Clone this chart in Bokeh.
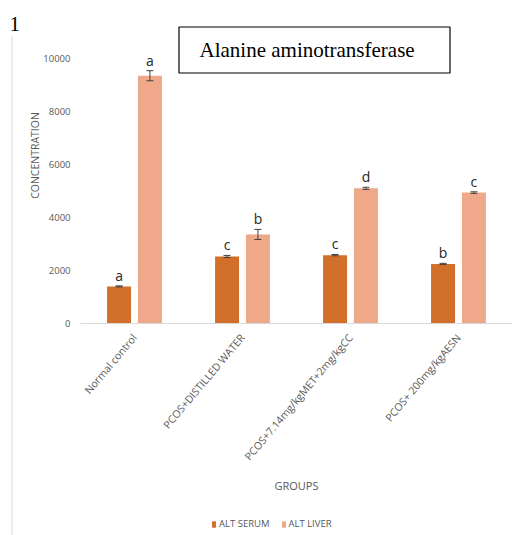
import math
from bokeh.plotting import figure
from bokeh.models import (ColumnDataSource, FixedTicker, Whisker, Label, BoxAnnotation,
                          Legend, LegendItem, Range1d)
from bokeh.core.properties import value
from bokeh.embed import file_html
from bokeh.resources import INLINE

# ---- data ----
groups = ["Normal control", "PCOS+DISTILLED WATER", "PCOS+7.14mg/kgMET+2mg/kgCC", "PCOS+ 200mg/kgAESN"]
serum = [1400, 2530, 2580, 2250]
serum_err = [20, 40, 25, 20]
serum_letters = ["a", "c", "c", "b"]
liver = [9350, 3360, 5100, 4940]
liver_err = [190, 190, 40, 30]
liver_letters = ["a", "b", "d", "c"]
y_ticks = [0, 2000, 4000, 6000, 8000, 10000]

SERUM_COLOR = "#D2702B"
LIVER_COLOR = "#F0A88A"
GRAY = "#595959"
FONT = "Open Sans"

W, H = 517, 535
n = len(groups)
centers = [i + 0.5 for i in range(n)]
off = 0.143
bw = 0.222

# layout: the plotting area spans the whole canvas; axes are pinned inside it
PX_LEFT, PX_CAT = 80, 108          # x pixel of category 0 start, pixels per category
PX_BASE, PX_PER_UNIT = 323, 0.0265  # y pixel of value 0, pixels per unit
x_rng = Range1d(-PX_LEFT / PX_CAT, (W - PX_LEFT) / PX_CAT)
y_rng = Range1d(-(H - PX_BASE) / PX_PER_UNIT, PX_BASE / PX_PER_UNIT)

p = figure(width=W, height=H, output_backend="svg", toolbar_location=None,
           x_range=x_rng, y_range=y_rng,
           min_border_left=0, min_border_right=0, min_border_top=0, min_border_bottom=0)
p.outline_line_color = None
p.grid.grid_line_color = None

s_src = ColumnDataSource(dict(x=[c - off for c in centers], top=serum,
                              up=[v + e for v, e in zip(serum, serum_err)],
                              lo=[v - e for v, e in zip(serum, serum_err)],
                              lab=serum_letters))
l_src = ColumnDataSource(dict(x=[c + off for c in centers], top=liver,
                              up=[v + e for v, e in zip(liver, liver_err)],
                              lo=[v - e for v, e in zip(liver, liver_err)],
                              lab=liver_letters))

r1 = p.vbar(x="x", top="top", width=bw, source=s_src, fill_color=SERUM_COLOR, line_color=None)
r2 = p.vbar(x="x", top="top", width=bw, source=l_src, fill_color=LIVER_COLOR, line_color=None)

for src in (s_src, l_src):
    w = Whisker(base="x", upper="up", lower="lo", source=src, line_color="#404040",
                line_width=1, level="overlay")
    w.upper_head.size = 7
    w.lower_head.size = 7
    w.upper_head.line_color = "#404040"
    w.lower_head.line_color = "#404040"
    p.add_layout(w)
    p.text(x="x", y="up", text="lab", source=src, text_align="center", text_baseline="bottom",
           y_offset=-1, text_font=value(FONT), text_font_size="14px", text_color="#262626")

# axes (pinned at value 0 / category start)
p.yaxis.fixed_location = 0
p.yaxis.ticker = FixedTicker(ticks=y_ticks)
p.yaxis.axis_line_color = None
p.yaxis.major_tick_line_color = None
p.yaxis.minor_tick_line_color = None
p.yaxis.major_tick_out = 0
p.yaxis.minor_tick_out = 0
p.yaxis.major_label_standoff = 10
p.yaxis.major_label_text_font = FONT
p.yaxis.major_label_text_font_size = "9.5px"
p.yaxis.major_label_text_color = GRAY

p.xaxis.fixed_location = 0
p.xaxis.bounds = (0, n)
p.xaxis.ticker = FixedTicker(ticks=centers)
p.xaxis.major_label_overrides = {c: g for c, g in zip(centers, groups)}
p.xaxis.major_label_orientation = 0.87
p.xaxis.axis_line_color = "#D9D9D9"
p.xaxis.major_tick_line_color = None
p.xaxis.minor_tick_line_color = None
p.xaxis.major_tick_out = 0
p.xaxis.minor_tick_out = 0
p.xaxis.major_label_standoff = 12
p.xaxis.major_label_text_font = FONT
p.xaxis.major_label_text_font_size = "10.5px"
p.xaxis.major_label_text_color = GRAY

# axis titles (screen px from bottom-left of canvas)
p.add_layout(Label(x=34, y=H - 155, x_units="screen", y_units="screen", text="CONCENTRATION",
                   angle=math.pi / 2, text_align="center", text_baseline="middle",
                   text_font=FONT, text_font_size="10.5px", text_color=GRAY))
p.add_layout(Label(x=296, y=H - 485, x_units="screen", y_units="screen", text="GROUPS",
                   text_align="center", text_baseline="middle",
                   text_font=FONT, text_font_size="11px", text_color=GRAY))

# title box
p.add_layout(BoxAnnotation(left=178.5, right=449.5, top=H - 26.5, bottom=H - 72.5,
                           left_units="screen", right_units="screen",
                           top_units="screen", bottom_units="screen",
                           fill_color="white", fill_alpha=1,
                           line_color="black", line_alpha=1, line_width=1.2))
p.add_layout(Label(x=199, y=H - 49, x_units="screen", y_units="screen",
                   text="Alanine aminotransferase", text_font="Liberation Serif",
                   text_font_size="21px", text_color="black", text_baseline="alphabetic"))
# figure number
p.add_layout(Label(x=9, y=H - 23, x_units="screen", y_units="screen", text="1",
                   text_font="Liberation Serif", text_font_size="21px", text_color="black",
                   text_baseline="alphabetic"))
# left border of chart area
p.add_layout(BoxAnnotation(left=11, right=12, top=H - 35, bottom=0,
                           left_units="screen", right_units="screen",
                           top_units="screen", bottom_units="screen",
                           fill_color="#D9D9D9", fill_alpha=1, line_color=None))

legend = Legend(items=[LegendItem(label="ALT SERUM", renderers=[r1]),
                       LegendItem(label="ALT LIVER", renderers=[r2])],
                orientation="horizontal", location=(211, 5),
                border_line_color=None, background_fill_alpha=0,
                label_text_font=FONT, label_text_font_size="9.5px", label_text_color=GRAY,
                glyph_width=5, glyph_height=8, label_height=10, spacing=11, padding=0, margin=0,
                label_standoff=3)
p.add_layout(legend)

open("out.html", "w").write(file_html(p, INLINE))
